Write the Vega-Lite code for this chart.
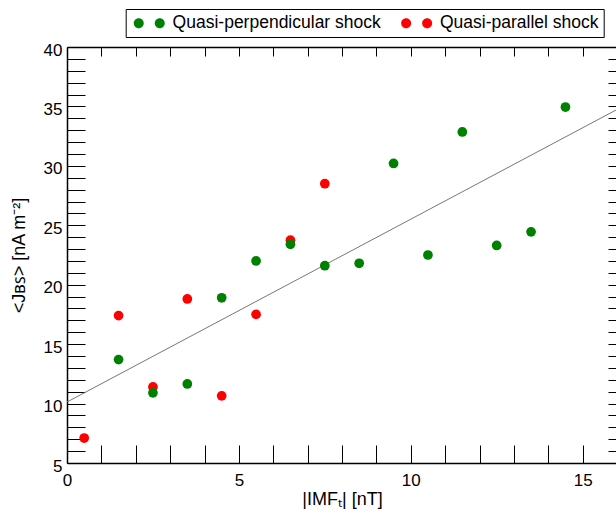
{
  "$schema": "https://vega.github.io/schema/vega-lite/v6.json",
  "width": 550,
  "height": 416,
  "autosize": {"type": "none"},
  "padding": {"left": 67, "top": 47, "right": 0, "bottom": 47},
  "background": "white",
  "config": {
    "view": {"stroke": null},
    "font": "Liberation Sans",
    "axis": {
      "grid": false,
      "domainColor": "black",
      "domainWidth": 1.5,
      "tickColor": "black",
      "tickWidth": 1,
      "labelFont": "Liberation Sans",
      "labelFontSize": 17,
      "labelColor": "black",
      "titleFont": "Liberation Sans",
      "titleFontSize": 18,
      "titleFontWeight": "normal",
      "titleColor": "black",
      "labelFlush": false,
      "labelOverlap": false
    }
  },
  "layer": [
    {
      "data": {"values": [{"x": 0, "y": 10.13}, {"x": 16, "y": 34.74}]},
      "mark": {"type": "line", "color": "#777777", "strokeWidth": 1},
      "encoding": {
        "x": {
          "field": "x", "type": "quantitative",
          "scale": {"domain": [0, 16], "nice": false},
          "axis": {
            "orient": "top", "values": [0,1,2,3,4,5,6,7,8,9,10,11,12,13,14,15,16],
            "labels": false, "title": null, "tickSize": -9,
            "encode": {"ticks": {"update": {"y2": {"signal": "datum.value % 5 === 0 ? 18 : 9"}}}}
          }
        },
        "y": {
          "field": "y", "type": "quantitative",
          "scale": {"domain": [5, 40], "nice": false},
          "axis": {
            "orient": "right", "values": [5,6,7,8,9,10,11,12,13,14,15,16,17,18,19,20,21,22,23,24,25,26,27,28,29,30,31,32,33,34,35,36,37,38,39,40],
            "labels": false, "title": null, "tickSize": -9,
            "encode": {"ticks": {"update": {"x2": {"signal": "datum.value % 5 === 0 ? -18 : -9"}}}}
          }
        }
      }
    },
    {
      "data": {"values": [
        {"imf": 0.5, "j": 7.1, "type": "Quasi-parallel shock"},
        {"imf": 1.5, "j": 17.4, "type": "Quasi-parallel shock"},
        {"imf": 2.5, "j": 11.4, "type": "Quasi-parallel shock"},
        {"imf": 3.5, "j": 18.8, "type": "Quasi-parallel shock"},
        {"imf": 4.5, "j": 10.65, "type": "Quasi-parallel shock"},
        {"imf": 5.5, "j": 17.5, "type": "Quasi-parallel shock"},
        {"imf": 6.5, "j": 23.75, "type": "Quasi-parallel shock"},
        {"imf": 7.5, "j": 28.5, "type": "Quasi-parallel shock"},
        {"imf": 1.5, "j": 13.7, "type": "Quasi-perpendicular shock"},
        {"imf": 2.5, "j": 10.9, "type": "Quasi-perpendicular shock"},
        {"imf": 3.5, "j": 11.65, "type": "Quasi-perpendicular shock"},
        {"imf": 4.5, "j": 18.9, "type": "Quasi-perpendicular shock"},
        {"imf": 5.5, "j": 22.0, "type": "Quasi-perpendicular shock"},
        {"imf": 6.5, "j": 23.4, "type": "Quasi-perpendicular shock"},
        {"imf": 7.5, "j": 21.6, "type": "Quasi-perpendicular shock"},
        {"imf": 8.5, "j": 21.8, "type": "Quasi-perpendicular shock"},
        {"imf": 9.5, "j": 30.2, "type": "Quasi-perpendicular shock"},
        {"imf": 10.5, "j": 22.5, "type": "Quasi-perpendicular shock"},
        {"imf": 11.5, "j": 32.85, "type": "Quasi-perpendicular shock"},
        {"imf": 12.5, "j": 23.3, "type": "Quasi-perpendicular shock"},
        {"imf": 13.5, "j": 24.45, "type": "Quasi-perpendicular shock"},
        {"imf": 14.5, "j": 34.95, "type": "Quasi-perpendicular shock"}
      ]},
      "mark": {"type": "point", "filled": true, "size": 95, "opacity": 1},
      "encoding": {
        "x": {
          "field": "imf", "type": "quantitative",
          "scale": {"domain": [0, 16], "nice": false},
          "axis": {
            "orient": "bottom", "values": [0,1,2,3,4,5,6,7,8,9,10,11,12,13,14,15,16],
            "tickSize": -18, "labelPadding": 27,
            "labelExpr": "datum.value % 5 === 0 ? datum.label : ''",
            "title": "|IMFₜ| [nT]", "titlePadding": 2,
            "encode": {"ticks": {"update": {"y2": {"signal": "datum.value % 5 === 0 ? -18 : -9"}}}}
          }
        },
        "y": {
          "field": "j", "type": "quantitative",
          "scale": {"domain": [5, 40], "nice": false},
          "axis": {
            "orient": "left", "values": [5,6,7,8,9,10,11,12,13,14,15,16,17,18,19,20,21,22,23,24,25,26,27,28,29,30,31,32,33,34,35,36,37,38,39,40],
            "tickSize": -18, "labelPadding": 23, "labelOffset": 3,
            "labelExpr": "datum.value % 5 === 0 ? datum.label : ''",
            "title": "<Jʙꜱ> [nA m⁻²]", "titlePadding": 15,
            "encode": {"ticks": {"update": {"x2": {"signal": "datum.value % 5 === 0 ? 18 : 9"}}}}
          }
        },
        "color": {
          "field": "type", "type": "nominal",
          "scale": {"domain": ["Quasi-perpendicular shock", "Quasi-parallel shock"], "range": ["#008000", "#ff0000"]},
          "legend": {
            "title": null, "orient": "none", "legendX": 58.7, "legendY": -38,
            "direction": "horizontal", "columns": 2,
            "symbolType": "M -3.1,0 A 1,1 0 1,1 -1.1,0 A 1,1 0 1,1 -3.1,0 Z M 1.1,0 A 1,1 0 1,1 3.1,0 A 1,1 0 1,1 1.1,0 Z",
            "symbolSize": 100, "symbolOffset": 9.8, "labelOffset": 14.6,
            "columnPadding": 16.4, "padding": 5, "labelLimit": 400,
            "strokeColor": "black", "fillColor": "white",
            "labelFontSize": 17.5, "labelFont": "Liberation Sans", "labelColor": "black",
            "symbolStrokeWidth": 0, "symbolOpacity": 1
          }
        }
      }
    }
  ],
  "resolve": {"axis": {"x": "independent", "y": "independent"}}
}
